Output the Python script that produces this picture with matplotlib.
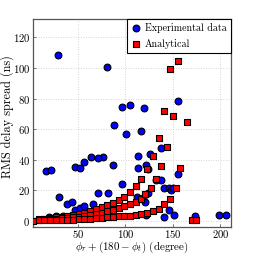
import matplotlib
matplotlib.use('Agg')
import matplotlib.pyplot as plt

plt.rcParams['font.family'] = 'serif'
plt.rcParams['font.serif'] = ['cmr10', 'DejaVu Serif']
plt.rcParams['mathtext.fontset'] = 'cm'
plt.rcParams['axes.formatter.use_mathtext'] = True

# experimental data (angle sum in degree, rms delay spread in ns)
exp_x = [29.5, 81, 96.4, 105, 119.5, 155.5, 88.4, 101, 116.5, 63.6, 76.5, 71, 57, 47, 52.2,
         16.8, 22, 86.6, 113.6, 125.8, 137, 113.6, 121.5, 124, 155.5, 96.2, 71, 81.7, 30,
         39, 43.7, 47.4, 52.4, 57, 65.7, 132, 137, 141, 146, 148, 150, 124, 111.8, 118.8,
         120.5, 121.3, 146, 151.3, 140.8, 173, 199, 206, 20, 27, 35, 44]
exp_y = [108.5, 100.5, 74.5, 75.6, 73.8, 78.6, 62.5, 56.6, 58.7, 42, 41.8, 40.9, 38.5, 35.5, 34.5,
         32.4, 33.5, 36.5, 42.5, 43.5, 47.6, 34.8, 36.3, 34.2, 30.4, 24.4, 18.5, 18.5, 15.5,
         11.3, 12.7, 7.3, 8.6, 9.7, 11.3, 27, 26.5, 21.5, 21.5, 20.4, 21.5, 18.2, 15.6, 14.9,
         12.3, 3.6, 6.9, 4, 2.5, 3, 3.6, 3.6, 2.5, 3, 3.5, 3]

# analytical model, three branches plus a few extra points
ana_a_x = [9, 15, 21, 27, 33, 39, 45, 51, 57, 63, 69, 75, 81, 87, 93, 99, 105, 111, 117, 123,
           129, 135, 141, 147, 155]
ana_a_y = [1.2, 1.5, 1.9, 2.3, 2.7, 3.2, 3.8, 4.5, 5.3, 6.3, 7.6, 9.0, 10.6, 12.0, 13.6, 15.6,
           18.8, 22.8, 27.6, 33.7, 42.2, 54.2, 71.9, 99.1, 104.6]
ana_b_x = [9, 15, 21, 27, 33, 39, 45, 51, 57, 63, 69, 75, 81, 87, 93, 99, 105, 111, 117, 121,
           127, 132, 138, 144, 150]
ana_b_y = [0.8, 1.0, 1.2, 1.5, 1.8, 2.1, 2.5, 2.9, 3.4, 4.0, 4.6, 5.4, 6.2, 7.2, 8.3, 9.6, 11.0,
           12.6, 14.5, 17.3, 21.5, 27.2, 35.7, 48.3, 68.4]
ana_c_x = [3, 9, 15, 21, 27, 33, 39, 45, 51, 57, 63, 69, 75, 81, 87, 93, 99, 105, 111, 117,
           123, 129, 135, 141, 147, 153, 158]
ana_c_y = [0.2, 0.3, 0.4, 0.5, 0.6, 0.7, 0.8, 0.9, 1.0, 1.2, 1.4, 1.7, 2.0, 2.4, 2.8, 3.1, 3.3,
           3.5, 3.8, 4.6, 5.3, 6.2, 7.6, 10.8, 14.5, 21.5, 34.6]
ana_extra_x = [165, 170, 174]
ana_extra_y = [64.7, 0.3, 0.3]

ana_x = ana_a_x + ana_b_x + ana_c_x + ana_extra_x
ana_y = ana_a_y + ana_b_y + ana_c_y + ana_extra_y

fig = plt.figure(figsize=(2.56, 2.56), dpi=100)
ax = fig.add_axes([0.129, 0.113, 0.773, 0.813])

ax.scatter(exp_x, exp_y, s=24, c='#0000ff', edgecolors='black', linewidths=0.8,
           label='Experimental data', zorder=3)
ax.scatter(ana_x, ana_y, s=13, c='#ff0000', marker='s', edgecolors='black', linewidths=0.8,
           label='Analytical', zorder=4)

ax.set_xlim(3, 211)
ax.set_ylim(-4, 132)
ax.set_xticks([50, 100, 150, 200])
ax.set_yticks([0, 20, 40, 60, 80, 100, 120])
ax.tick_params(labelsize=7.7, direction='in', length=2, width=0.5, colors='#444444',
               labelcolor='black', pad=2)
ax.tick_params(axis='x', pad=1)
ax.grid(True, linestyle=(0, (1, 2)), color='#c8c8c8', linewidth=0.6)
for s in ax.spines.values():
    s.set_color('#555555')
    s.set_linewidth(0.9)

ax.set_xlabel(r'$\phi_r + (180 - \phi_t)$ (degree)', fontsize=7.9)
ax.set_ylabel('RMS delay spread (ns)', fontsize=8.8)
ax.xaxis.set_label_coords(0.5, -0.062)
ax.yaxis.set_label_coords(-0.098, 0.53)

leg = ax.legend(loc='upper right', fontsize=7.2, fancybox=False, framealpha=1,
                edgecolor='black', borderaxespad=0, handletextpad=0.4,
                borderpad=0.4, labelspacing=0.6, handlelength=1.0, scatterpoints=1)
leg.get_frame().set_linewidth(0.8)

fig.savefig('out.png', dpi=100)
